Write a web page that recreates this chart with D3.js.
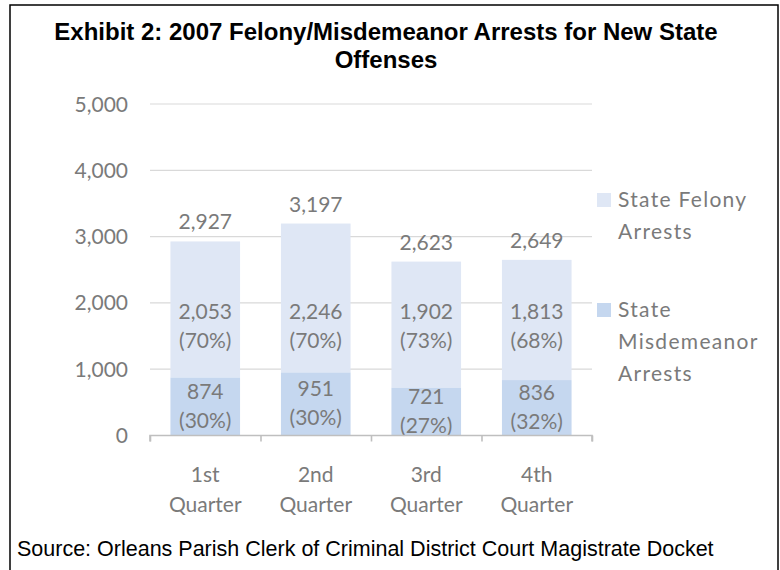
<!DOCTYPE html>
<html>
<head>
<meta charset="utf-8">
<script src="https://cdn.jsdelivr.net/npm/d3@7"></script>
<style>
  body { margin: 0; background: #fff; }
  svg text { font-family: Lato, "Open Sans", sans-serif; }
</style>
</head>
<body>
<div id="chart"></div>
<script>
const quarters = ["1st Quarter", "2nd Quarter", "3rd Quarter", "4th Quarter"];
const misdemeanorArrests = [874, 951, 721, 836];
const felonyArrests = [2053, 2246, 1902, 1813];
const yTicks = [0, 1000, 2000, 3000, 4000, 5000];
const seriesNames = ["State Felony Arrests", "State Misdemeanor Arrests"];
const seriesColors = ["#dfe7f5", "#c5d7ef"];

const width = 780,
  height = 570,
  grey = "#7a7a7a";

const fmt = d3.format(",");
const pct = v => `(${Math.round(v * 100)}%)`;

const rows = quarters.map((q, i) => ({
  q,
  misd: misdemeanorArrests[i],
  fel: felonyArrests[i],
  total: misdemeanorArrests[i] + felonyArrests[i]
}));

const svg = d3
  .select("#chart")
  .append("svg")
  .attr("width", width)
  .attr("height", height);

// frame
svg
  .append("rect")
  .attr("x", 10)
  .attr("y", 5)
  .attr("width", 768)
  .attr("height", 580)
  .attr("fill", "none")
  .attr("stroke", "#000")
  .attr("stroke-width", 1.5);

// title
const title = svg
  .append("text")
  .attr("text-anchor", "middle")
  .style("font-family", "'Liberation Sans', Arial, sans-serif")
  .style("font-weight", "bold")
  .style("font-size", "24px")
  .attr("fill", "#000");
title.append("tspan").attr("x", 386).attr("y", 40).text("Exhibit 2: 2007 Felony/Misdemeanor Arrests for New State");
title.append("tspan").attr("x", 386).attr("y", 68).text("Offenses");

const x = d3
  .scaleBand()
  .domain(quarters)
  .range([150, 592])
  .paddingInner(0.37)
  .paddingOuter(0.185);

const y = d3.scaleLinear().domain([0, 5000]).range([435.5, 104]);

// gridlines
svg
  .append("g")
  .selectAll("line")
  .data(yTicks.filter(d => d > 0))
  .enter()
  .append("line")
  .attr("x1", 150)
  .attr("x2", 592)
  .attr("y1", d => y(d))
  .attr("y2", d => y(d))
  .attr("stroke", "#d9d9d9")
  .attr("stroke-width", 1.2);

// y labels
svg
  .append("g")
  .selectAll("text")
  .data(yTicks)
  .enter()
  .append("text")
  .attr("x", 128)
  .attr("y", d => y(d) + 7.5)
  .attr("text-anchor", "end")
  .style("font-size", "21px")
  .attr("fill", grey)
  .text(d => fmt(d));

// stacked bars
const bars = svg
  .append("g")
  .selectAll("g")
  .data(rows)
  .enter()
  .append("g");

bars
  .append("rect")
  .attr("x", d => x(d.q))
  .attr("width", x.bandwidth())
  .attr("y", d => y(d.total))
  .attr("height", d => y(d.misd) - y(d.total))
  .attr("fill", seriesColors[0]);

bars
  .append("rect")
  .attr("x", d => x(d.q))
  .attr("width", x.bandwidth())
  .attr("y", d => y(d.misd))
  .attr("height", d => y(0) - y(d.misd))
  .attr("fill", seriesColors[1]);

// x axis
const xAxis = svg
  .append("g")
  .attr("transform", `translate(0,${y(0)})`)
  .call(
    d3
      .axisBottom(d3.scaleLinear().domain([0, 4]).range([150, 592]))
      .ticks(4)
      .tickSize(6)
      .tickFormat("")
  );
xAxis.select(".domain").attr("stroke", "#bfbfbf").attr("stroke-width", 1.6).attr("d", "M150,6V0H592V6");
xAxis.selectAll(".tick line").attr("stroke", "#bfbfbf").attr("stroke-width", 1.6);

// category labels
const cat = svg
  .append("g")
  .selectAll("text")
  .data(quarters)
  .enter()
  .append("text")
  .attr("text-anchor", "middle")
  .style("font-size", "21px")
  .attr("fill", grey);
cat
  .selectAll("tspan")
  .data(d => d.split(" ").map(w => ({ w, q: d })))
  .enter()
  .append("tspan")
  .attr("x", d => x(d.q) + x.bandwidth() / 2)
  .attr("y", (d, i) => 482 + i * 30)
  .text(d => d.w);

// value labels
const twoLine = (sel, a, b) => {
  sel.append("tspan").attr("x", sel.datum().cx).attr("dy", 0).text(a);
  sel.append("tspan").attr("x", sel.datum().cx).attr("dy", 29).text(b);
};

bars.each(function (d) {
  const g = d3.select(this);
  const cx = x(d.q) + x.bandwidth() / 2;

  g.append("text")
    .attr("x", cx)
    .attr("y", y(d.total) - 12)
    .attr("text-anchor", "middle")
    .style("font-size", "21px")
    .attr("fill", grey)
    .text(fmt(d.total));

  // felony labels sit at roughly the same level in every bar
  const fel = g
    .append("text")
    .datum({ cx })
    .attr("y", y(1650) - 7)
    .attr("text-anchor", "middle")
    .style("font-size", "21px")
    .attr("fill", grey);
  twoLine(fel, fmt(d.fel), pct(d.fel / d.total));

  const mis = g
    .append("text")
    .datum({ cx })
    .attr("y", (y(d.misd) + y(0)) / 2 - 8)
    .attr("text-anchor", "middle")
    .style("font-size", "21px")
    .attr("fill", grey);
  twoLine(mis, fmt(d.misd), pct(d.misd / d.total));
});

// legend
const legendLines = [["State Felony", "Arrests"], ["State", "Misdemeanor", "Arrests"]];
const legend = svg
  .append("g")
  .selectAll("g")
  .data(seriesNames)
  .enter()
  .append("g")
  .attr("transform", (d, i) => `translate(597,${i === 0 ? 193 : 303})`);

legend
  .append("rect")
  .attr("width", 14)
  .attr("height", 14)
  .attr("fill", (d, i) => seriesColors[i]);

legend
  .append("text")
  .style("font-size", "21px")
  .style("letter-spacing", "1.3px")
  .attr("fill", grey)
  .selectAll("tspan")
  .data((d, i) => legendLines[i])
  .enter()
  .append("tspan")
  .attr("x", 21)
  .attr("y", (d, i) => 14 + i * 32)
  .text(d => d);

// source note
svg
  .append("text")
  .attr("x", 17)
  .attr("y", 556)
  .style("font-family", "'Liberation Sans', Arial, sans-serif")
  .style("font-size", "21.5px")
  .attr("fill", "#000")
  .text("Source: Orleans Parish Clerk of Criminal District Court Magistrate Docket");
</script>
</body>
</html>
